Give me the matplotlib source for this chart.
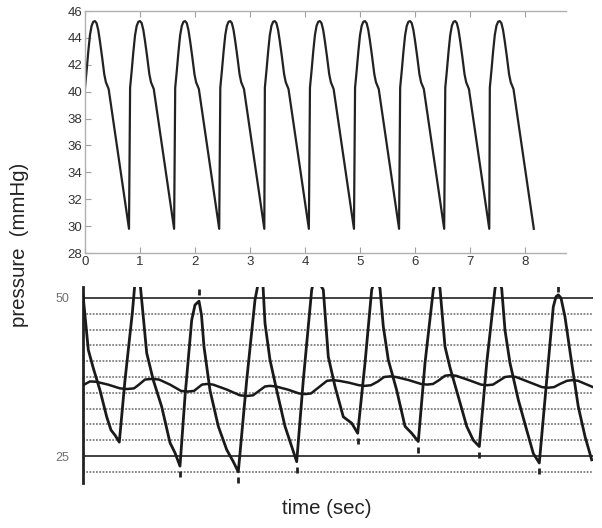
import matplotlib.pyplot as plt
import numpy as np

plt.rcParams['font.family'] = ['Liberation Sans', 'DejaVu Sans']

# top panel: model pressure, one beat template repeated at each onset
beat_onsets = [0.0, 0.82, 1.64, 2.46, 3.27, 4.09, 4.91, 5.73, 6.55, 7.36]
beat_offset = [0.00, 0.03, 0.06, 0.09, 0.12, 0.15, 0.18, 0.21, 0.24, 0.27, 0.31, 0.35, 0.38, 0.40, 0.43, 0.80]
beat_pressure = [40.3, 41.6, 43.0, 44.2, 44.9, 45.2, 45.25, 45.1, 44.6, 43.8, 42.6, 41.3, 40.7, 40.5, 40.2, 29.8]

# bottom panel: recorded arterial trace (t in s, P in mmHg)
art_t = [0.00, 0.053, 0.103, 0.17, 0.237, 0.28, 0.32, 0.363,
         0.42, 0.493, 0.52, 0.545, 0.57, 0.603, 0.637, 0.703, 0.787, 0.87, 0.92, 0.97,
         1.02, 1.087, 1.12, 1.16, 1.185, 1.21, 1.27, 1.353, 1.437, 1.503, 1.553,
         1.637, 1.72, 1.76, 1.80, 1.82, 1.87, 1.937, 2.02, 2.087, 2.137,
         2.203, 2.287, 2.32, 2.403, 2.453, 2.52, 2.603, 2.687, 2.747,
         2.82, 2.887, 2.93, 2.97, 3.003, 3.053, 3.137, 3.22, 3.287, 3.353,
         3.42, 3.503, 3.54, 3.57, 3.62, 3.67, 3.753, 3.837, 3.903, 3.963,
         4.037, 4.12, 4.15, 4.187, 4.22, 4.27, 4.353, 4.437, 4.503, 4.563,
         4.637, 4.703, 4.73, 4.753, 4.78, 4.82, 4.887, 4.953, 5.02, 5.087]
art_p = [50.5, 41.8, 38.9, 35.4, 31.2, 29.1, 28.3, 27.2,
         37.0, 47.6, 52.5, 53.0, 52.5, 47.0, 41.3, 37.0, 32.8, 27.1, 25.5, 23.4,
         34.4, 46.5, 48.9, 49.5, 47.3, 42.3, 35.4, 29.7, 26.0, 24.1, 22.5,
         37.0, 49.7, 53.0, 52.0, 46.0, 40.2, 35.4, 29.7, 26.5, 24.1,
         37.0, 51.3, 53.5, 51.3, 40.7, 36.0, 31.2, 30.2, 28.6,
         39.7, 51.3, 53.5, 51.5, 45.5, 40.2, 35.4, 29.7, 28.6, 27.3,
         39.7, 51.3, 53.5, 51.5, 42.3, 39.0, 34.4, 29.7, 27.5, 26.5,
         39.7, 51.5, 53.5, 51.5, 44.9, 39.7, 33.9, 29.1, 25.4, 23.9,
         37.0, 48.6, 50.2, 50.5, 50.0, 47.0, 39.7, 32.8, 28.1, 24.4]

# slow (respiratory) trace
slow_t = [0.00, 0.07, 0.13, 0.25, 0.37, 0.44, 0.51, 0.56, 0.62, 0.69, 0.76, 0.87, 0.98, 1.05,
          1.11, 1.15, 1.19, 1.24, 1.30, 1.44, 1.57, 1.64, 1.70, 1.76, 1.82, 1.87, 1.93, 2.05,
          2.16, 2.22, 2.28, 2.36, 2.44, 2.50, 2.56, 2.66, 2.76, 2.82, 2.88, 2.95, 3.01, 3.07,
          3.13, 3.26, 3.38, 3.44, 3.50, 3.56, 3.62, 3.67, 3.73, 3.86, 3.98, 4.04, 4.10, 4.16,
          4.22, 4.27, 4.33, 4.46, 4.59, 4.65, 4.71, 4.77, 4.84, 4.89, 4.95, 5.10]
slow_p = [36.2, 36.8, 36.75, 36.3, 35.7, 35.6, 35.7, 36.3, 37.1, 37.2, 37.1, 36.3, 35.3, 35.2,
          35.3, 35.8, 36.3, 36.4, 36.3, 35.5, 34.6, 34.5, 34.6, 35.3, 36.0, 36.1, 36.0, 35.5,
          34.9, 34.8, 34.9, 35.9, 36.9, 37.0, 36.9, 36.6, 36.2, 36.1, 36.2, 36.8, 37.5, 37.6,
          37.5, 37.0, 36.4, 36.3, 36.4, 37.0, 37.7, 37.8, 37.7, 37.0, 36.3, 36.2, 36.3, 36.9,
          37.5, 37.6, 37.5, 36.7, 35.9, 35.8, 35.9, 36.4, 36.9, 37.0, 36.9, 35.9]

# small event marks on the strip
mark_t = [0.97, 1.553, 2.137, 2.747, 3.353, 3.963, 4.563, 1.16, 4.753]
mark_p = [22.1, 21.2, 22.8, 27.3, 26.0, 25.2, 22.6, 50.9, 51.5]

grid_levels = [22.5, 27.5, 30, 32.5, 35, 37.5, 40, 42.5, 45, 47.5]
major_levels = [25, 50]

fig = plt.figure(figsize=(6.02, 5.28), dpi=100)

# ---- top panel
ax1 = fig.add_axes([85/602, 1-253/528, 481/602, 242/528])
tt, pp = [], []
for t0 in beat_onsets:
    for off, p in zip(beat_offset, beat_pressure):
        tt.append(t0 + off)
        pp.append(p)
ax1.plot(tt, pp, color='#222222', lw=1.6, solid_joinstyle='round')
ax1.set_xlim(0, 8.745)
ax1.set_ylim(28, 46)
ax1.set_xticks(range(0, 9))
ax1.set_yticks(range(28, 47, 2))
for s in ['left', 'bottom', 'top']:
    ax1.spines[s].set_color('#b0b0b0')
    ax1.spines[s].set_linewidth(1.0)
ax1.spines['right'].set_visible(False)
ax1.tick_params(direction='in', length=4, color='#a0a0a0', labelsize=9.5,
                labelcolor='#333333', top=True, pad=2)

# ---- bottom panel
ax2 = fig.add_axes([83/602, 45/528, 510/602, 196/528])
for lv in grid_levels:
    ax2.axhline(lv, color='#808080', lw=1.3, ls=(0, (1, 0.8)), zorder=1)
for lv in major_levels:
    ax2.axhline(lv, color='#333333', lw=1.3, zorder=1)
ax2.plot(slow_t, slow_p, color='#1a1a1a', lw=1.8, solid_joinstyle='round', zorder=3)
ax2.plot(art_t, art_p, color='#1a1a1a', lw=2.0, solid_joinstyle='round', zorder=3)
ax2.plot(mark_t, mark_p, ls='none', marker='|', ms=4, mew=2, color='#222222', zorder=3)
ax2.set_xlim(0, 5.1)
ax2.set_ylim(20.73, 51.74)
ax2.set_xticks([])
ax2.set_yticks([25, 50])
ax2.tick_params(length=0, labelsize=9, labelcolor='#707070', pad=10)
for s in ['right', 'top', 'bottom']:
    ax2.spines[s].set_visible(False)
ax2.spines['left'].set_linewidth(2.0)
ax2.spines['left'].set_color('#222222')

fig.text(20/602, 1-245/528, 'pressure  (mmHg)', rotation=90, ha='center', va='center',
         fontsize=14.7, color='#222222')
fig.text(327/602, 1-508/528, 'time (sec)', ha='center', va='center',
         fontsize=14.7, color='#222222')

fig.savefig('out.png', dpi=100)
